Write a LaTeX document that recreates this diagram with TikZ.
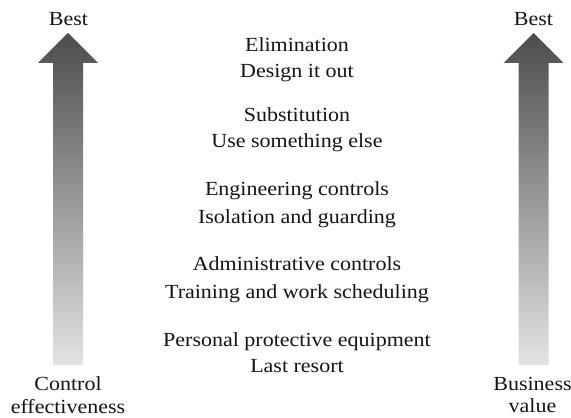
\documentclass[tikz,border=0pt]{standalone}
\usepackage{fontspec}
\setmainfont{Liberation Serif}[FakeStretch=1.1]
\begin{document}
\begin{tikzpicture}[x=1pt,y=1pt,
  lbl/.style={anchor=base,inner sep=0pt,text=black!92,font=\fontsize{20}{24}\selectfont},
  bigarrow/.style={top color=black!70,bottom color=black!11,draw=none}]
\useasboundingbox (0,0) rectangle (571,418);

% Left arrow: control effectiveness
\shade[bigarrow] (53,53) -- (53,355) -- (38,355) -- (68,385) -- (98,355) -- (83,355) -- (83,53) -- cycle;
% Right arrow: business value
\shade[bigarrow] (518.5,53) -- (518.5,355) -- (503.5,355) -- (533.5,385) -- (563.5,355) -- (548.5,355) -- (548.5,53) -- cycle;

% Axis labels
\node[lbl] (bestL) at (68.5,392) {Best};
\node[lbl] (bestR) at (533.5,392) {Best};
\node[lbl] (ctrl) at (68,27) {Control};
\node[lbl] (eff) at (68,4) {effectiveness};
\node[lbl] (bus) at (532.5,27) {Business};
\node[lbl] (val) at (532.5,5) {value};

% Hierarchy of controls
\node[lbl] (elim) at (297,366) {Elimination};
\node[lbl] (elim2) at (297,340) {Design it out};
\node[lbl] (subs) at (297,296) {Substitution};
\node[lbl] (subs2) at (297,270) {Use something else};
\node[lbl] (eng) at (297,222) {Engineering controls};
\node[lbl] (eng2) at (297,194) {Isolation and guarding};
\node[lbl] (adm) at (297,147) {Administrative controls};
\node[lbl] (adm2) at (297,119) {Training and work scheduling};
\node[lbl] (ppe) at (297,71) {Personal protective equipment};
\node[lbl] (ppe2) at (297,45) {Last resort};
\end{tikzpicture}
\end{document}
